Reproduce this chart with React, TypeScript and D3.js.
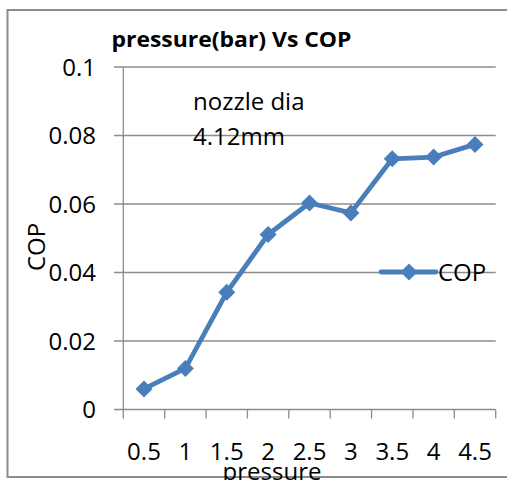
import React from "react";
import * as d3 from "d3";

const categories = ["0.5", "1", "1.5", "2", "2.5", "3", "3.5", "4", "4.5"];
const copValues = [0.006, 0.012, 0.0342, 0.0511, 0.0603, 0.0574, 0.0732, 0.0737, 0.0774];
const yTicks = [0, 0.02, 0.04, 0.06, 0.08, 0.1];
const yTickLabels = ["0", "0.02", "0.04", "0.06", "0.08", "0.1"];

const FONT = "'Open Sans', sans-serif";
const BLUE = "#4a7ebb";
const FS = 24;

export default function App() {
  const x = d3.scaleBand<string>().domain(categories).range([123.3, 495.7]).padding(0);
  const y = d3.scaleLinear().domain([0, 0.1]).range([409.5, 67]);
  const cx = (c: string) => (x(c) as number) + x.bandwidth() / 2;
  const line = d3
    .line<number>()
    .x((_, i) => cx(categories[i]))
    .y((d) => y(d));
  const diamond = (px: number, py: number, r: number) =>
    `M${px},${py - r}L${px + r},${py}L${px},${py + r}L${px - r},${py}Z`;
  const [x0, x1] = x.range();
  const tickXs = categories.map((c) => x(c) as number).concat([x1]);

  return (
    <svg
      width={507}
      height={480}
      style={{ position: "absolute", left: 0, top: 0, background: "#fff" }}
    >
      <rect x={0} y={0} width={507} height={480} fill="#fff" />
      {/* outer border */}
      <path d="M507,10 H7.5 V477 H507" fill="none" stroke="#8c8c8c" strokeWidth={2} />
      {/* gridlines */}
      {yTicks.map((t, i) => (
        <line key={i} x1={114} x2={x1} y1={y(t)} y2={y(t)} stroke="#8c8c8c" strokeWidth={1.3} />
      ))}
      {/* y axis line */}
      <line x1={x0} x2={x0} y1={y(0.1)} y2={y(0)} stroke="#8c8c8c" strokeWidth={1.3} />
      {/* x ticks */}
      {tickXs.map((tx, i) => (
        <line key={i} x1={tx} x2={tx} y1={y(0)} y2={y(0) + 9} stroke="#8c8c8c" strokeWidth={1.3} />
      ))}
      {/* y tick labels */}
      {yTicks.map((t, i) => (
        <text key={i} x={96} y={y(t) + 8.5} textAnchor="end" fontFamily={FONT} fontSize={FS} fill="#000">
          {yTickLabels[i]}
        </text>
      ))}
      {/* x tick labels */}
      {categories.map((c) => (
        <text key={c} x={cx(c)} y={460} textAnchor="middle" fontFamily={FONT} fontSize={FS} fill="#000">
          {c}
        </text>
      ))}
      {/* title */}
      <text
        x={111.5}
        y={47}
        fontFamily={FONT}
        fontSize={21}
        fontWeight="bold"
        fill="#000"
        textLength={240}
        lengthAdjust="spacingAndGlyphs"
      >
        pressure(bar) Vs COP
      </text>
      {/* annotation */}
      <text x={193} y={110} fontFamily={FONT} fontSize={FS} fill="#000">nozzle dia</text>
      <text x={193} y={144.5} fontFamily={FONT} fontSize={FS} fill="#000">4.12mm</text>
      {/* axis titles */}
      <text
        transform={`translate(45,247) rotate(-90)`}
        textAnchor="middle"
        fontFamily={FONT}
        fontSize={FS}
        fill="#000"
      >
        COP
      </text>
      <text x={272} y={480} textAnchor="middle" fontFamily={FONT} fontSize={FS} fill="#000">
        pressure
      </text>
      {/* series */}
      <path d={line(copValues) || ""} fill="none" stroke={BLUE} strokeWidth={4.8} strokeLinejoin="round" />
      {copValues.map((v, i) => (
        <path key={i} d={diamond(cx(categories[i]), y(v), 8.5)} fill={BLUE} />
      ))}
      {/* legend */}
      <line x1={381} x2={436} y1={272} y2={272} stroke={BLUE} strokeWidth={4.8} strokeLinecap="round" />
      <path d={diamond(409, 272, 8.5)} fill={BLUE} />
      <text x={438} y={280.5} fontFamily={FONT} fontSize={FS} fill="#000">COP</text>
    </svg>
  );
}
